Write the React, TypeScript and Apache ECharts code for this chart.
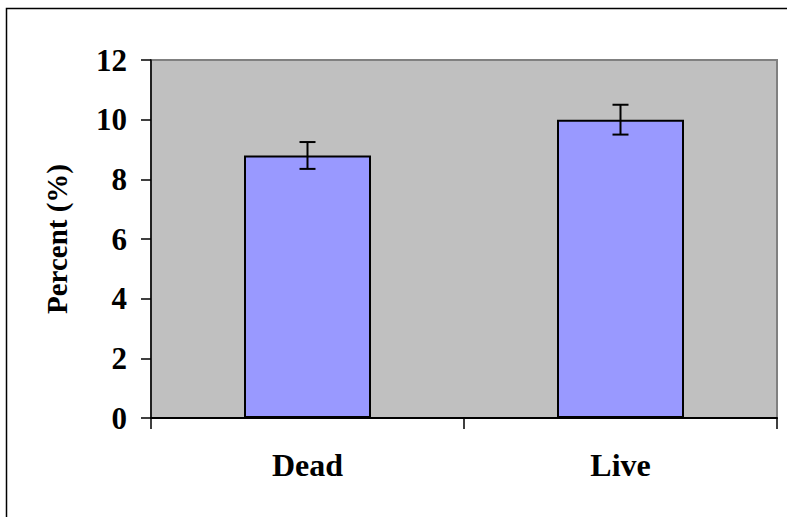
import React, { useEffect, useRef } from "react";
import * as echarts from "echarts";

const categories = ["Dead", "Live"];
const values = [8.8, 10.0];
const errors = [0.45, 0.5];
const yTicks = { min: 0, max: 12, interval: 2 };
const yAxisName = "Percent (%)";

const FONT = "'Liberation Serif', 'Times New Roman', serif";

export default function App() {
  const ref = useRef<HTMLDivElement>(null);
  useEffect(() => {
    if (!ref.current) return;
    const chart = echarts.init(ref.current, null, { renderer: "svg" });
    chart.setOption({
      animation: false,
      backgroundColor: "#ffffff",
      grid: { left: 151, top: 60, right: 10, bottom: 99, show: true, backgroundColor: "#C0C0C0", borderColor: "#808080", borderWidth: 2 },
      xAxis: {
        type: "category",
        data: categories,
        axisLine: { show: true, lineStyle: { color: "#000", width: 2 } },
        axisTick: { show: true, length: 11, alignWithLabel: false, lineStyle: { color: "#000", width: 1.5 } },
        axisLabel: { color: "#000", fontFamily: FONT, fontWeight: "bold", fontSize: 32, margin: 31 },
        splitLine: { show: false },
      },
      yAxis: {
        type: "value",
        min: yTicks.min,
        max: yTicks.max,
        interval: yTicks.interval,
        name: yAxisName,
        nameLocation: "middle",
        nameGap: 80,
        nameTextStyle: { color: "#000", fontFamily: FONT, fontWeight: "bold", fontSize: 29 },
        axisLine: { show: true, lineStyle: { color: "#000", width: 1.5 } },
        axisTick: { show: true, length: 10, lineStyle: { color: "#000", width: 1.5 } },
        axisLabel: { color: "#000", fontFamily: FONT, fontWeight: "bold", fontSize: 31, margin: 24 },
        splitLine: { show: false },
      },
      graphic: [
        {
          type: "rect",
          shape: { x: 6.5, y: 8.5, width: 1000, height: 1000 },
          style: { fill: "none", stroke: "#000", lineWidth: 1.5 },
          silent: true,
        },
      ],
      series: [
        {
          type: "bar",
          data: values,
          barWidth: 127,
          itemStyle: { color: "#9999FF", borderColor: "#000", borderWidth: 2 },
          z: 2,
        },
        {
          type: "custom",
          data: values.map((v, i) => [i, v, errors[i]]),
          z: 3,
          renderItem: (params: any, api: any) => {
            const i = api.value(0);
            const v = api.value(1);
            const e = api.value(2);
            const top = api.coord([i, v + e]);
            const bot = api.coord([i, v - e]);
            const hw = 8;
            const st = { stroke: "#000", lineWidth: 2 };
            return {
              type: "group",
              children: [
                { type: "line", shape: { x1: top[0], y1: top[1], x2: bot[0], y2: bot[1] }, style: st },
                { type: "line", shape: { x1: top[0] - hw, y1: top[1], x2: top[0] + hw, y2: top[1] }, style: st },
                { type: "line", shape: { x1: bot[0] - hw, y1: bot[1], x2: bot[0] + hw, y2: bot[1] }, style: st },
              ],
            };
          },
        },
      ],
    });
    return () => chart.dispose();
  }, []);
  return <div ref={ref} style={{ position: "absolute", left: 0, top: 0, width: 787, height: 517 }} />;
}
